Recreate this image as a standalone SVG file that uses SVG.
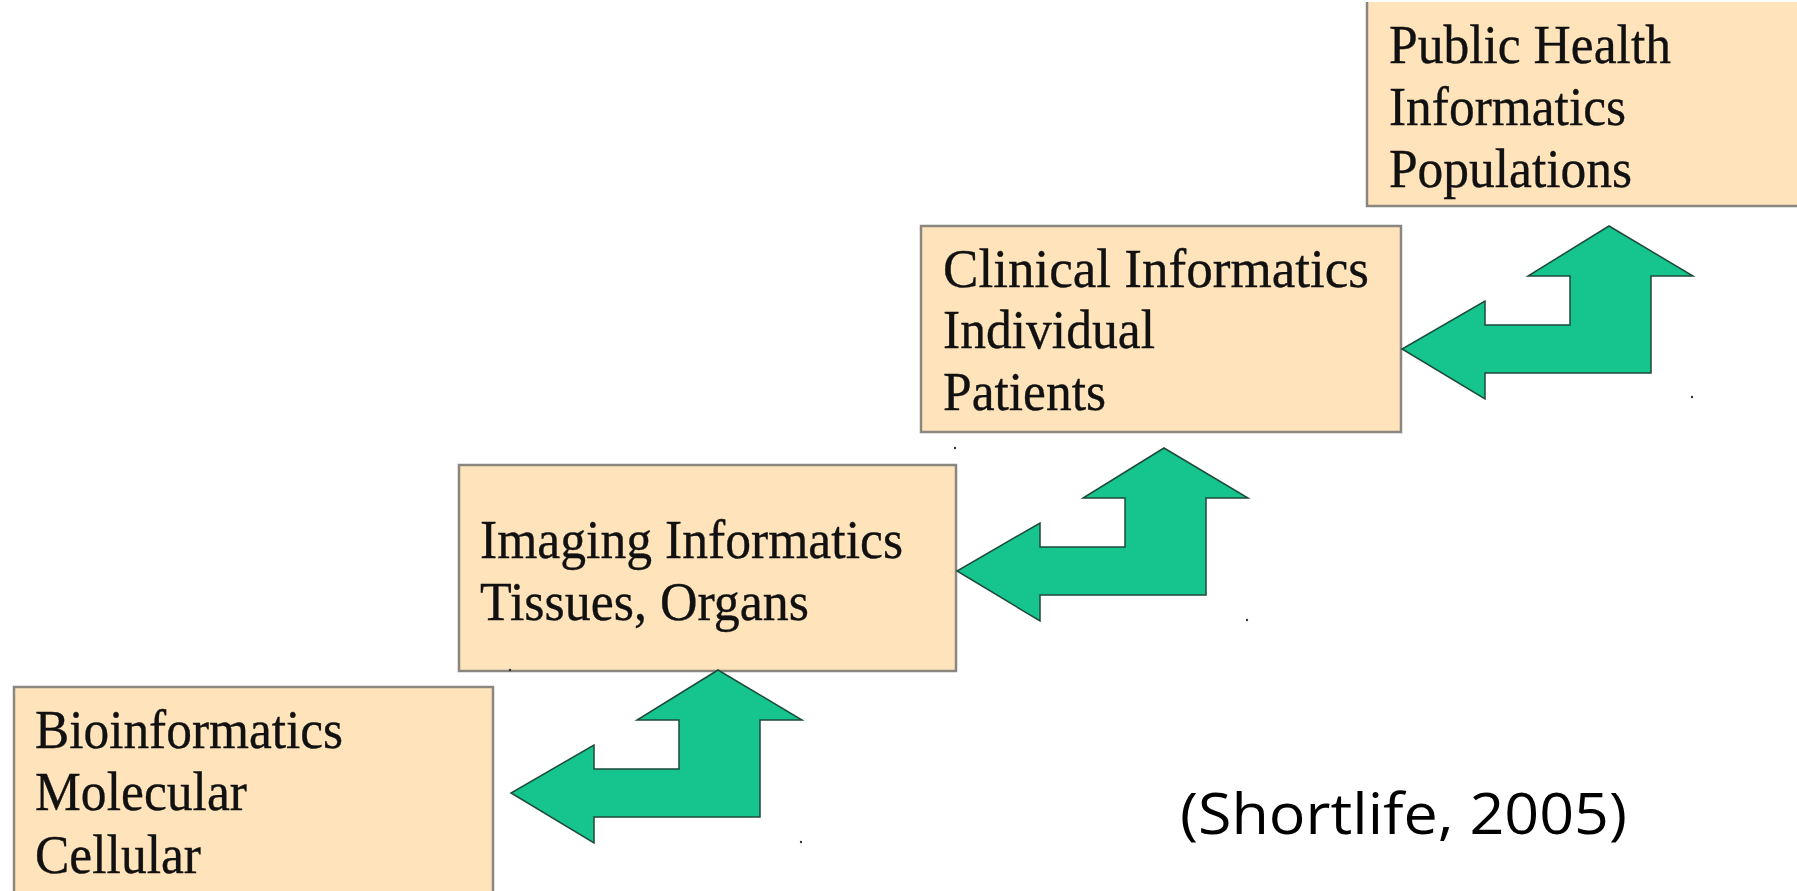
<svg xmlns="http://www.w3.org/2000/svg" width="1797" height="891" viewBox="0 0 1797 891">
  <style>
    .box { fill: #FFE4BB; stroke: #8A8680; stroke-width: 2.5; }
    .edge { fill: none; stroke: #8A8680; stroke-width: 2.5; }
    .lbl { font-family: "Liberation Serif", "Times New Roman", serif; font-size: 54px; fill: #111; stroke: #111; stroke-width: 0.35; }
    .cite { font-family: "Open Sans", "Liberation Sans", sans-serif; font-size: 56px; fill: #000; }
    .bent { fill: #16C48E; stroke: #1E4A3A; stroke-width: 1.5; stroke-linejoin: miter; }
    .speck { fill: #333; }
  </style>
  <defs>
    <!-- bent double arrow: up-pointing head on top, left-pointing head at the bottom -->
    <polygon id="bentArrow" points="0,0 84,50 42,50 42,147 -124,147 -124,173 -207,123 -124,75 -124,99 -39,99 -39,50 -81,50"/>
  </defs>

  <rect width="1797" height="891" fill="#FFFFFF"/>

  <g id="node-bioinformatics">
    <rect class="box" x="14" y="687" width="479" height="220"/>
    <text class="lbl" x="35" y="748" textLength="308" lengthAdjust="spacingAndGlyphs">Bioinformatics</text>
    <text class="lbl" x="35" y="810" textLength="212" lengthAdjust="spacingAndGlyphs">Molecular</text>
    <text class="lbl" x="35" y="873" textLength="166" lengthAdjust="spacingAndGlyphs">Cellular</text>
  </g>

  <g id="node-imaging">
    <rect class="box" x="459" y="465" width="497" height="206"/>
    <text class="lbl" x="480" y="558" textLength="423" lengthAdjust="spacingAndGlyphs">Imaging Informatics</text>
    <text class="lbl" x="480" y="620" textLength="329" lengthAdjust="spacingAndGlyphs">Tissues, Organs</text>
  </g>

  <g id="node-clinical">
    <rect class="box" x="921" y="226" width="480" height="206"/>
    <text class="lbl" x="943" y="287" textLength="426" lengthAdjust="spacingAndGlyphs">Clinical Informatics</text>
    <text class="lbl" x="943" y="348" textLength="212" lengthAdjust="spacingAndGlyphs">Individual</text>
    <text class="lbl" x="943" y="410" textLength="163" lengthAdjust="spacingAndGlyphs">Patients</text>
  </g>

  <g id="node-public-health">
    <rect x="1367" y="2" width="440" height="204" fill="#FFE4BB"/>
    <path class="edge" d="M1367,2 V206 H1800"/>
    <text class="lbl" x="1389" y="63" textLength="282" lengthAdjust="spacingAndGlyphs">Public Health</text>
    <text class="lbl" x="1389" y="125" textLength="237" lengthAdjust="spacingAndGlyphs">Informatics</text>
    <text class="lbl" x="1389" y="187" textLength="243" lengthAdjust="spacingAndGlyphs">Populations</text>
  </g>

  <g id="connectors">
    <use href="#bentArrow" class="bent" x="718" y="670"/>
    <use href="#bentArrow" class="bent" x="1164" y="448"/>
    <use href="#bentArrow" class="bent" x="1609" y="226"/>
  </g>

  <g id="specks">
    <circle class="speck" cx="510" cy="670" r="1.2"/>
    <circle class="speck" cx="801" cy="842" r="1.2"/>
    <circle class="speck" cx="955" cy="448" r="1.2"/>
    <circle class="speck" cx="1247" cy="620" r="1.2"/>
    <circle class="speck" cx="1692" cy="397" r="1.2"/>
  </g>

  <text class="cite" x="1180" y="834" textLength="447" lengthAdjust="spacingAndGlyphs">(Shortlife, 2005)</text>
</svg>
